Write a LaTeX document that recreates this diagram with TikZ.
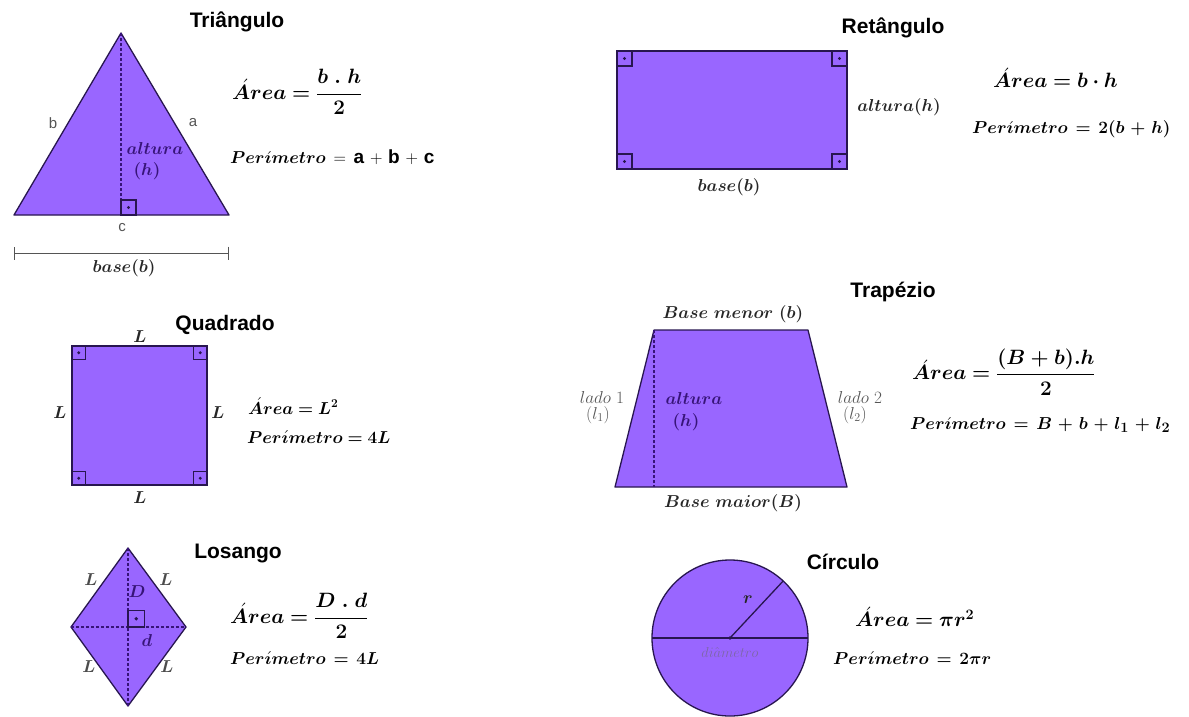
\documentclass[tikz,border=0pt]{standalone}
\usepackage{amsmath,amssymb,bm}
\usepackage{fontspec}
\setsansfont{Liberation Sans}
\usetikzlibrary{arrows.meta,positioning}
\definecolor{figroxo}{RGB}{153,102,255}
\definecolor{contorno}{RGB}{40,22,80}
\definecolor{rotcinza}{RGB}{85,85,85}
\definecolor{roxoesc}{RGB}{55,20,120}
\newcommand{\espacos}{\thickmuskip=8mu\relax\medmuskip=6mu\relax}

\begin{document}
\begin{tikzpicture}[x=1pt,y=-1pt,
    figura/.style={draw=contorno, fill=figroxo, line width=1.3pt, line join=round},
    titulo/.style={font=\fontsize{21}{24}\selectfont\sffamily\bfseries},
    area/.style={anchor=west, inner sep=0pt, font=\fontsize{21}{25}\selectfont},
    perim/.style={anchor=west, inner sep=0pt, font=\fontsize{19}{22}\selectfont\espacos},
    rotulo/.style={inner sep=1pt, text=black!85, font=\fontsize{19}{22}\selectfont},
    lado/.style={inner sep=1pt, text=rotcinza, font=\fontsize{15}{17}\selectfont\sffamily},
    altura/.style={draw=roxoesc, line width=1.1pt, dash pattern=on 3pt off 2pt},
    reto/.pic={\draw[contorno, line width=1.1pt] (0,0) rectangle (15,15);
               \fill[contorno] (7.5,7.5) circle (1.7);}]
  \useasboundingbox (0,0) rectangle (1189,716);

  % triangulo
  \coordinate (tA) at (121,33);
  \coordinate (tB) at (14,215);
  \coordinate (tC) at (229,215);
  \coordinate (tH) at (121,215);
  \draw[figura] (tA) -- (tB) -- (tC) -- cycle;
  \draw[altura] (tA) -- (tH);
  \pic[yscale=-1] at (tH) {reto};
  \node[titulo] (tTit) at (237,22) {Triângulo};
  \node[lado] (tb) at (53,123) {b};
  \node[lado] (ta) at (193,123) {a};
  \node[lado] (tc) at (122,228) {c};
  \node[rotulo, text=roxoesc, font=\fontsize{17}{20}\selectfont] (tAlt) at (155,148) {$\bm{altura}$};
  \node[rotulo, text=roxoesc, font=\fontsize{17}{20}\selectfont] (tAltH) at (147,171) {$\bm{(h)}$};
  \coordinate (bE) at (14,253);
  \coordinate (bD) at (229,253);
  \draw[rotcinza, line width=1pt, {Bar[width=13pt]}-{Bar[width=13pt]}] (bE) -- (bD);
  \node[rotulo] (tBase) at (124,268) {$\bm{base(b)}$};
  \node[area] (tArea) at (232,92) {$\bm{\acute{A}rea = \dfrac{b\ .\ h}{2}}$};
  \node[perim] (tPer) at (230,157) {$\bm{Per\acute{\imath}metro} = \text{\sffamily\bfseries a} + \text{\sffamily\bfseries b} + \text{\sffamily\bfseries c}$};

  % retangulo
  \coordinate (rA) at (617,51);
  \coordinate (rB) at (847,51);
  \coordinate (rC) at (847,169);
  \coordinate (rD) at (617,169);
  \draw[figura] (rA) rectangle (rC);
  \pic at (rA) {reto};
  \pic[xscale=-1] at (rB) {reto};
  \pic[scale=-1] at (rC) {reto};
  \pic[yscale=-1] at (rD) {reto};
  \node[titulo] (rTit) at (893,28) {Retângulo};
  \node[rotulo] (rAlt) at (899,107) {$\bm{altura(h)}$};
  \node[rotulo] (rBase) at (729,187) {$\bm{base(b)}$};
  \node[area] (rArea) at (993,78) {$\bm{\acute{A}rea = b\cdot h}$};
  \node[perim] (rPer) at (972,129) {$\bm{Per\acute{\imath}metro = 2(b+h)}$};

  % quadrado
  \coordinate (qA) at (72,346);
  \coordinate (qB) at (207,346);
  \coordinate (qC) at (207,485);
  \coordinate (qD) at (72,485);
  \draw[figura] (qA) rectangle (qC);
  \pic[scale=0.9] at (qA) {reto};
  \pic[xscale=-0.9, yscale=0.9] at (qB) {reto};
  \pic[scale=-0.9] at (qC) {reto};
  \pic[xscale=0.9, yscale=-0.9] at (qD) {reto};
  \node[titulo] (qTit) at (225,325) {Quadrado};
  \node[rotulo, font=\fontsize{17}{20}\selectfont] (qL1) at (140,337) {$\bm{L}$};
  \node[rotulo, font=\fontsize{17}{20}\selectfont] (qL2) at (60,413) {$\bm{L}$};
  \node[rotulo, font=\fontsize{17}{20}\selectfont] (qL3) at (218,413) {$\bm{L}$};
  \node[rotulo, font=\fontsize{17}{20}\selectfont] (qL4) at (140,498) {$\bm{L}$};
  \node[area, font=\fontsize{18}{21}\selectfont] (qArea) at (248,406) {$\bm{\acute{A}rea = L^2}$};
  \node[perim, font=\fontsize{17}{20}\selectfont] (qPer) at (247,437) {$\bm{Per\acute{\imath}metro = 4L}$};

  % trapezio
  \coordinate (zA) at (654,330);
  \coordinate (zB) at (808,330);
  \coordinate (zC) at (847,487);
  \coordinate (zD) at (615,487);
  \coordinate (zH) at (654,487);
  \draw[figura] (zA) -- (zB) -- (zC) -- (zD) -- cycle;
  \draw[altura] (zA) -- (zH);
  \node[titulo] (zTit) at (893,292) {Trapézio};
  \node[rotulo] (zMenor) at (733,314) {$\bm{Base\ menor\ (b)}$};
  \node[rotulo] (zMaior) at (733,503) {$\bm{Base\ maior(B)}$};
  \node[rotulo, text=rotcinza, font=\fontsize{17}{20}\selectfont] (zL1) at (602,397) {$lado\ 1$};
  \node[rotulo, text=rotcinza, font=\fontsize{17}{20}\selectfont] (zL1b) at (598,415) {$(l_1)$};
  \node[rotulo, text=rotcinza, font=\fontsize{17}{20}\selectfont] (zL2) at (860,397) {$lado\ 2$};
  \node[rotulo, text=rotcinza, font=\fontsize{17}{20}\selectfont] (zL2b) at (855,415) {$(l_2)$};
  \node[rotulo, text=roxoesc] (zAlt) at (694,398) {$\bm{altura}$};
  \node[rotulo, text=roxoesc] (zAltH) at (686,422) {$\bm{(h)}$};
  \node[area] (zArea) at (912,372) {$\bm{\acute{A}rea = \dfrac{(B+b).h}{2}}$};
  \node[perim] (zPer) at (910,425) {$\bm{Per\acute{\imath}metro = B+b+l_1+l_2}$};

  % losango
  \coordinate (lA) at (128,548);
  \coordinate (lB) at (186,627);
  \coordinate (lC) at (128,706);
  \coordinate (lD) at (71,627);
  \coordinate (lO) at (128,627);
  \draw[figura] (lA) -- (lB) -- (lC) -- (lD) -- cycle;
  \draw[altura] (lA) -- (lC);
  \draw[altura] (lD) -- (lB);
  \pic[xscale=1.1, yscale=-1.1] at (lO) {reto};
  \node[titulo] (lTit) at (238,553) {Losango};
  \node[rotulo, text=black!70, font=\fontsize{17}{20}\selectfont] (lL1) at (91,580) {$\bm{L}$};
  \node[rotulo, text=black!70, font=\fontsize{17}{20}\selectfont] (lL2) at (166,580) {$\bm{L}$};
  \node[rotulo, text=black!70, font=\fontsize{17}{20}\selectfont] (lL3) at (89,667) {$\bm{L}$};
  \node[rotulo, text=black!70, font=\fontsize{17}{20}\selectfont] (lL4) at (167,667) {$\bm{L}$};
  \node[rotulo, text=roxoesc, font=\fontsize{17}{20}\selectfont] (lDM) at (137,592) {$\bm{D}$};
  \node[rotulo, text=roxoesc, font=\fontsize{17}{20}\selectfont] (ldm) at (147,640) {$\bm{d}$};
  \node[area] (lArea) at (230,616) {$\bm{\acute{A}rea = \dfrac{D\ .\ d}{2}}$};
  \node[perim] (lPer) at (230,658) {$\bm{Per\acute{\imath}metro = 4L}$};

  % circulo
  \coordinate (cO) at (730,638);
  \coordinate (cE) at (652,638);
  \coordinate (cD) at (808,638);
  \path (cO) ++(-47:78) coordinate (cR);
  \draw[figura] (cO) circle (78);
  \draw[contorno, line width=1.3pt] (cE) -- (cD);
  \draw[contorno, line width=1.3pt] (cO) -- (cR);
  \fill[contorno] (cO) circle (1.8);
  \node[titulo] (cTit) at (843,562) {Círculo};
  \node[rotulo, font=\fontsize{17}{20}\selectfont] (cr) at (748,600) {$\bm{r}$};
  \node[rotulo, text=roxoesc!65, font=\fontsize{14}{16}\selectfont] (cDiam) at (730,652) {$di\hat{a}metro$};
  \node[area] (cArea) at (855,617) {$\bm{\acute{A}rea = \pi r^2}$};
  \node[perim] (cPer) at (833,658) {$\bm{Per\acute{\imath}metro = 2\pi r}$};
\end{tikzpicture}
\end{document}
